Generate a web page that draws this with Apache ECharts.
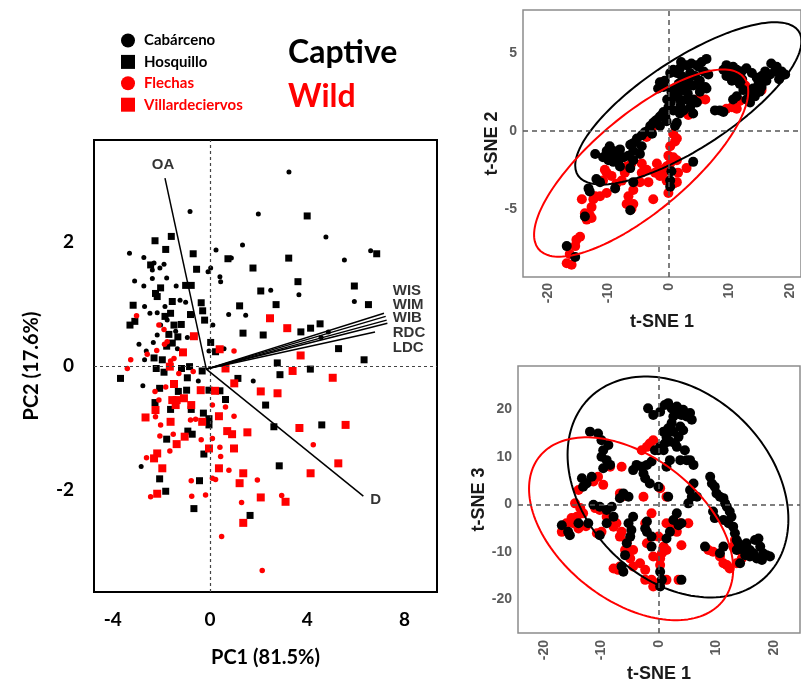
<!DOCTYPE html>
<html>
<head>
<meta charset="utf-8">
<script src="https://cdn.jsdelivr.net/npm/echarts@6.0.0/dist/echarts.min.js"></script>
<style>
  html, body { margin: 0; padding: 0; background: #fff; }
  #chart { width: 801px; height: 686px; }
</style>
</head>
<body>
<div id="chart"></div>
<script>
// ---- PCA biplot (PC1 vs PC2) ----
const cabarceno = [
  [3.25,3.13],[-0.82,2.49],[1.99,2.45],[4.77,2.08],[6.61,1.86],[5.53,1.71],[3.66,1.15],[5.94,1.04],[2.5,1.22],[4.87,0.55],[4.57,0.46],
  [-3.31,1.82],[-2.72,1.75],[-2.30,1.66],[-2.06,1.58],[-2.37,1.55],[-1.89,1.64],[0.25,1.87],[1.34,1.95],[0.88,1.74],[0.03,1.58],
  [-0.08,1.52],[0.41,1.44],[0.44,1.36],[-3.10,1.37],[-2.72,1.29],[-2.37,1.41],[-1.78,1.42],[-1.39,1.29],[-1.23,1.06],[-1.00,1.03],
  [-2.69,0.96],[-2.17,0.86],[-1.85,0.96],[-2.47,0.85],[0.77,0.83],[1.47,0.82],[0.12,0.66],[-2.92,0.35],[-2.62,0.24],[-2.33,0.38],
  [-2.69,0.10],[-1.34,0.28],[-0.04,0.24],[0.58,0.28],[-0.93,0.46],[-2.03,0.66],[-1.76,0.74],[-1.41,0.56],[-2.17,0.50],
  [-2.76,-0.32],[-0.48,-0.24],[-2.83,-1.62],[1.78,-0.24]
];
const hosquillo = [
  [4.0,2.42],[6.86,1.81],[3.24,1.74],[3.62,1.36],[5.94,1.29],[2.72,0.99],[6.52,0.99],[4.14,0.61],[4.53,0.68],[5.29,0.28],
  [6.34,0.1],[2.77,0.05],[4.13,-0.05],[3.74,0.55],[2.88,-0.14],
  [-2.26,2.02],[-1.59,2.09],[-1.82,1.88],[-0.69,1.81],[-2.44,1.63],[-0.55,1.56],[0.74,1.73],[1.77,1.58],[-2.03,1.26],[-2.24,1.17],
  [-2.17,1.12],[-1.0,1.30],[-0.77,1.30],[-3.16,0.98],[-1.55,1.04],[-0.36,1.02],[-0.30,0.89],[-0.22,0.74],[1.22,0.97],[2.09,1.21],
  [-1.85,0.80],[-1.62,0.85],[-3.29,0.66],[-3.09,0.72],[-0.80,0.83],[-1.18,0.67],[-1.48,0.66],[-1.55,0.37],[-1.78,0.32],[-1.32,0.47],
  [-1.69,0.51],[0.03,0.38],[0.23,0.23],[-2.30,0.13],[-1.96,0.10],[1.36,0.53],[2.19,0.50],
  [-3.68,-0.20],[-2.21,-0.04],[-1.89,-0.10],[-0.93,-0.19],[-0.84,-0.01],[-1.17,-0.04],[-0.32,-0.08],[-2.07,-0.36],[-1.30,-0.41],
  [-0.96,-0.39],[-0.04,-0.39],[0.41,-0.40],[1.15,-0.20],[0.64,-0.54],[-2.26,-0.59],[-1.62,-0.70],[-0.77,-0.70],[-0.27,-0.76],
  [-0.04,-0.85],[-0.04,-0.95],[-0.91,-1.05],[-0.73,-1.10],[-1.78,-1.18],[-0.25,-1.42],[-2.07,-1.82],[-1.82,-2.02],[-0.43,-1.85],
  [2.29,-0.63],[2.63,-0.98],[4.60,-0.95],[2.85,-1.61],[1.65,-2.41],[-0.66,-2.30]
];
const flechas = [
  [-3.02,0.81],[-2.10,0.66],[-1.89,0.59],[-1.76,0.39],[-1.87,0.35],[-2.19,0.25],[-3.26,0.10],[-2.58,0.19],[-1.48,0.12],[0.99,0.24],[-1.62,0.08],
  [-3.40,-0.04],[-2.26,-0.41],[-1.82,-0.34],[-2.10,-0.55],[-2.24,-0.82],[-2.03,-0.95],[-1.51,-1.10],[-2.06,-1.13],[-1.65,-1.37],
  [-2.61,-1.48],[-0.80,-0.87],[-0.59,-0.86],[-0.36,-1.19],[0.10,-1.17],[0.41,-1.31],[0.44,-1.46],[0.78,-1.68],[0.10,-1.81],
  [0.23,-1.83],[-0.77,-1.85],[-0.75,-2.10],[-0.18,-2.08],[1.30,-2.20],[1.95,-1.84],[0.64,-0.66],[0.99,-0.81],[0.10,-0.63],
  [-0.69,-0.09],[-1.28,-0.12],[-2.44,-2.11],
  [4.25,-1.27],[2.95,-2.09],[0.48,-2.75],[2.15,-3.30]
];
const villardeciervos = [
  [2.47,0.77],[3.18,0.61],[3.73,0.17],[3.4,-0.08],[5.05,-0.19],
  [-0.66,0.48],[-1.11,0.22],[0.40,0.27],[-1.65,-0.01],[0.64,-0.04],
  [-1.48,-0.29],[-0.38,-0.39],[0.21,-0.40],[1.0,-0.28],[-1.07,-0.52],[-1.37,-0.55],[-1.55,-0.55],[-0.77,-0.63],[-1.41,-0.63],
  [-2.24,-0.71],[-2.65,-0.83],[-1.62,-0.90],[-0.32,-0.90],[0.37,-0.81],[2.09,-0.41],[0.71,-1.05],[0.91,-1.10],[1.54,-1.07],
  [-1.04,-1.14],[-1.37,-1.26],[-2.17,-1.41],[-2.30,-1.49],[-1.96,-1.65],[-0.04,-1.33],[0.99,-1.33],[0.37,-1.65],[1.37,-1.73],
  [1.22,-1.89],[2.09,-2.12],[-2.17,-2.06],
  [2.78,-0.44],[3.68,-1.00],[5.58,-0.95],[5.28,-1.57],[4.14,-1.73],[3.11,-2.19],[1.37,-2.53]
];
// loading vectors
const loadingNames = ['OA', 'D', 'WIS', 'WIM', 'WIB', 'RDC', 'LDC'];
const loadingOrigin = [-0.15, -0.05];
const loadingEndX = [-1.85, 6.31, 7.16, 7.23, 7.27, 7.30, 6.79];
const loadingEndY = [3.03, -2.10, 0.85, 0.80, 0.74, 0.69, 0.55];
const loadingLabelX = [-1.93, 6.82, 7.52, 7.52, 7.52, 7.52, 7.52];
const loadingLabelY = [3.24, -2.16, 1.21, 0.99, 0.77, 0.54, 0.30];

const pcaTicksX = [-4, 0, 4, 8];
const pcaTicksY = [-2, 0, 2];

// ---- t-SNE 1 vs t-SNE 2 ----
const tsne12Captive = [
  [17.8,4.1],[18.6,3.8],[19.2,3.6],[17.5,3.8],[16.7,3.6],[16.1,3.2],[15.3,3.5],[15.9,3.8],[14.8,3.0],[13.9,2.7],[13.4,2.4],
  [12.8,2.0],[12.3,2.6],[11.7,3.0],[11.2,3.9],[10.6,4.1],[10.1,4.0],[9.5,4.2],[9.0,3.9],[9.5,3.5],[10.4,3.2],[11.2,3.5],
  [12.0,3.8],[12.8,4.0],[13.7,3.7],[14.5,3.4],[15.3,2.8],[15.0,2.5],[14.2,2.2],[13.4,1.8],[11.2,2.2],[10.6,2.0],[8.4,1.3],
  [9.0,1.2],[7.6,1.3],[16.9,4.3],[18.2,3.3],[12.1,3.3],[10.0,3.7],
  [6.2,4.6],[5.4,4.4],[4.6,4.2],[3.7,4.3],[2.9,4.2],[1.8,4.0],[1.3,3.7],[2.1,3.5],[3.5,3.7],[4.3,3.5],[5.1,3.2],[6.0,2.8],
  [4.8,3.0],[4.0,2.9],[2.9,2.8],[2.4,2.6],[1.5,2.4],[1.0,2.2],[1.8,2.0],[2.9,2.0],[4.0,2.0],[4.6,1.8],[3.5,1.5],[2.4,1.3],
  [1.8,1.1],[0.7,1.3],[-0.1,1.5],[-0.9,1.2],[-1.5,0.9],[-2.0,0.7],[-2.6,0.5],[-3.1,0.3],[-4.0,-0.1],[-4.5,-0.3],[-5.3,-0.5],
  [-5.9,-0.8],[-6.4,-0.9],[-1.5,3.1],[-0.7,3.2],[0.2,3.7],[0.7,3.9],[-0.9,2.8],[-1.8,2.7],[5.1,2.5],[6.2,2.7],[5.7,3.8],
  [6.5,3.6],[4.0,1.1],[1.3,0.5],[1.0,0.3],[-1.5,0.3],[-0.4,0.6],
  [3.2,3.3],[2.6,3.1],[1.6,3.0],[0.9,2.7],[0.4,2.5],[-0.3,2.0],[0.3,1.8],[-1.2,1.0],[-2.3,0.6],[-3.5,0.0],[-0.6,0.9],
  [2.0,4.4],[4.9,4.1],[3.1,2.4],[1.9,1.6],[-2.8,-0.2],
  [-9.8,-1.0],[-9.2,-1.3],[-8.7,-1.6],[-9.5,-1.7],[-10.3,-1.3],[-8.1,-1.2],[-7.5,-1.7],[-8.4,-2.0],[-9.2,-2.0],[-10.0,-1.9],
  [-12.2,-1.5],[-10.9,-1.7],[-8.1,-2.3],[-6.7,-1.6],[-5.9,-1.3],[-4.8,-1.5],[-4.5,-1.0],[-5.9,-1.9],[-6.4,-2.4],
  [-12.0,-3.1],[-11.4,-3.3],[-13.3,-3.7],[-13.1,-3.9],[-13.9,-5.5],[-8.9,-3.7],[-5.9,-3.3],[0.4,-2.6],[0.2,-3.2],[0.2,-3.6],
  [4.0,-2.0],[-6.4,-5.1],[-16.9,-7.4],[-15.5,-8.1]
];
const tsne12Wild = [
  [4.6,2.0],[0.7,-0.2],[1.0,-0.7],[0.2,-1.0],[-0.1,-1.6],[0.7,-1.7],[1.3,-1.9],[0.2,-2.1],[-0.4,-2.3],[-1.2,-2.5],[-0.9,-2.7],
  [-0.4,-3.2],[0.7,-3.4],[1.5,-2.7],[-0.1,-4.0],[1.3,-3.3],[-2.0,-2.1],[-2.3,-2.7],[-1.5,-2.9],[-3.7,-2.5],[-4.5,-2.7],
  [-4.8,-3.3],[-3.4,-3.3],[-2.6,-4.4],[-6.2,-2.1],[-7.0,-2.3],[-7.3,-2.7],[-7.8,-3.2],[-8.7,-3.4],[-5.9,-3.8],[-6.7,-4.2],
  [-7.0,-4.7],[-5.9,-4.7],[-6.2,-5.0],[-10.3,-2.7],[-10.6,-2.5],[-9.5,-2.9],[-10.9,-3.2],[-10.3,-4.0],[-11.4,-4.2],[-12.2,-4.2],
  [-12.5,-4.4],[-12.8,-4.9],[-13.1,-5.4],[-13.6,-5.7],[-12.8,-5.6],[-13.9,-5.3],[-14.4,-4.4],[-14.7,-6.8],[-15.3,-7.0],
  [-15.5,-7.4],[-16.4,-7.9],[-16.9,-8.5],[-16.1,-8.6],[-1.2,3.1],[5.1,2.0],[6.0,2.0],[3.2,1.0],[11.2,1.4],[10.4,1.5],
  [11.7,1.9],[12.6,2.9],[15.3,2.6],[9.5,1.4],[1.3,-0.5],[2.9,-2.4],[-4.5,-2.1],[-2.9,0.1],[-3.7,-0.4]
];
// ellipse: centre x, centre y, x radius, y radius, phase (deg)
const tsne12EllipseCaptive = [3.2, 1.75, 18.7, 5.2, 40];
const tsne12EllipseWild = [-4.6, -2.08, 17.7, 6.0, 40];

// ---- t-SNE 1 vs t-SNE 3 ----
const tsne13Captive = [
  [-1.9,20.2],[-1.0,18.8],[0.2,19.5],[1.0,20.9],[1.6,21.3],[2.2,20.2],[3.1,19.5],[3.9,18.8],[4.8,18.5],[5.7,17.8],[5.4,19.2],
  [4.2,19.9],[3.1,20.6],[2.5,18.5],[2.2,17.1],[1.6,16.0],[0.8,15.3],[1.3,14.2],[2.5,15.3],[3.7,16.4],[4.2,15.6],[3.4,14.2],
  [2.8,12.8],[1.9,13.2],[1.0,12.8],[0.2,12.1],[0.8,11.4],[3.1,12.1],[4.5,11.4],[5.4,9.3],[6.0,8.3],[4.8,9.3],[3.7,9.3],
  [1.9,9.3],[1.3,7.9],[-0.7,11.4],[-1.3,9.0],[-2.1,8.3],[-3.0,7.9],[-3.9,8.3],[-4.5,7.2],[-2.7,6.5],[-2.4,5.5],[-1.6,4.4],
  [-0.1,11.4],
  [8.9,5.8],[9.2,4.4],[9.7,3.7],[10.0,2.3],[10.6,1.6],[11.2,1.3],[11.5,0.2],[11.8,-0.5],[12.3,-1.5],[12.6,-2.6],[12.1,-4.0],
  [12.9,-4.7],[13.2,-6.1],[13.5,-7.5],[13.8,-8.2],[14.7,-9.6],[15.2,-8.2],[15.8,-9.6],[16.4,-10.3],[16.7,-7.5],[17.3,-7.2],
  [17.6,-8.9],[18.1,-10.3],[18.7,-10.7],[19.3,-11.0],[17.9,-11.7],[17.0,-11.4],[15.8,-11.0],[15.0,-10.7],[14.1,-12.4],
  [13.5,-9.6],[9.4,-1.5],[9.7,-2.9],[11.2,-3.3],[6.0,4.4],[5.4,3.0],[5.7,1.6],[6.6,1.6],[5.1,0.2],
  [-12.0,15.3],[-10.6,14.9],[-10.0,13.5],[-9.7,11.4],[-10.0,10.0],[-9.1,9.3],[-8.8,12.5],[-8.5,8.3],[-9.7,7.6],[-11.7,5.8],
  [-12.6,4.4],[-13.2,3.7],[-13.4,5.5],[-11.4,-0.1],[-10.3,-0.5],[-9.1,-1.2],[-8.2,-0.5],[-7.9,-2.6],[-9.1,-4.0],[-10.3,-6.5],
  [-15.8,-5.8],[-16.9,-4.4],[-15.5,-6.5],[-14.0,-4.0],[-12.3,-4.0],[-6.8,1.3],[-6.2,2.3],[-5.3,1.6],[-4.5,-2.6],[-5.3,-4.0],
  [-4.8,-5.4],[-5.0,-6.8],[-5.6,-8.2],[-5.9,-10.7],[-6.2,-14.2],[-2.4,-5.1],[-2.1,-5.8],[-1.3,-6.8],[-1.3,-8.9],[0.2,-14.2],
  [0.5,-15.9],[0.2,-17.3],[1.3,-7.2],[1.9,-5.8],[3.1,-1.9],[3.9,-4.0],[3.4,-4.4],[2.5,-3.3],[3.9,-15.9],[-6.5,-13.1],
  [1.6,1.6],[-0.1,3.7],[-2.1,-3.6],[8.0,-8.9],[11.2,-8.9],[10.6,-10.3]
];
const tsne13Wild = [
  [-1.0,13.5],[-2.1,12.1],[-3.0,11.4],[-6.5,7.9],[-8.5,7.9],[-10.6,5.8],[-11.4,4.8],[-9.7,4.1],[-14.0,3.0],[-14.6,0.2],
  [-13.7,-0.8],[-13.2,-1.9],[-14.3,-2.6],[-14.9,-4.0],[-14.0,-5.1],[-12.7,-4.6],[-16.9,-5.8],[-16.1,-4.0],[-15.2,-2.9],
  [-11.1,-0.8],[-10.3,-1.2],[-9.1,-2.6],[-8.5,-3.6],[-7.9,-4.7],[-10.8,-6.1],[-10.0,-5.8],[-7.4,-4.0],[-6.5,-5.8],[-6.8,-6.8],
  [-5.6,-7.9],[-5.9,-9.6],[-4.5,-9.6],[-5.0,-11.4],[-6.8,-13.1],[-7.9,-13.5],[-7.1,-13.8],[-4.5,-13.1],[-3.3,-12.4],
  [-2.4,-13.8],[-2.4,-15.9],[-1.3,-15.9],[-1.0,-17.3],[-0.4,-16.6],[0.2,-12.8],[0.2,-11.4],[0.5,-10.3],[0.8,-8.9],[1.3,-9.6],
  [-0.1,-6.8],[1.3,-4.0],[2.5,-4.0],[3.7,-4.0],[5.1,-4.0],[3.1,-5.8],[3.9,-8.6],[3.4,-15.9],[1.3,-15.9],[-6.5,1.6],[-2.7,1.6],
  [-6.8,2.3],[-2.1,-8.2],[-1.0,-11.0],[8.6,-9.6],[9.4,-10.0],[10.6,-11.0],[11.2,-12.4],[11.8,-12.8],[12.3,-13.5],[13.5,-12.4],
  [14.4,-11.4],[13.2,-7.5],[12.9,-8.9],[13.8,-9.6],[0.2,3.4],[1.3,1.6],[-1.3,-1.9],[-2.4,-4.0],[-1.6,12.8]
];
const tsne13EllipseCaptive = [3.3, 3.65, 19.2, 23.25, 107];
const tsne13EllipseWild = [-4.85, -5.15, 17.75, 19.25, 116];

const tsneTicksX = [-20, -10, 0, 10, 20];
const tsne2TicksY = [-5, 0, 5];
const tsne3TicksY = [-20, -10, 0, 10, 20];

const RED = '#ff0000';
const BLACK = '#000000';

function ellipsePoints(p) {
  const [cx, cy, rx, ry, ph] = p;
  const pts = [];
  for (let i = 0; i <= 160; i++) {
    const t = (i / 160) * 2 * Math.PI;
    pts.push([cx + rx * Math.cos(t), cy + ry * Math.cos(t - ph * Math.PI / 180)]);
  }
  return pts;
}

const chart = echarts.init(document.getElementById('chart'));

const pcaLabelFont = { fontFamily: 'Lato', fontWeight: 'bold', fontSize: 19, color: '#000' };
const tsneLabelFont = { fontFamily: 'Liberation Sans', fontWeight: 'bold', fontSize: 14, color: '#5a5a5a' };
const tsneNameFont = { fontFamily: 'Liberation Sans', fontWeight: 'bold', fontSize: 18, color: '#1a1a1a' };

function axis(gridIndex, min, max, ticks, label, name, nameGap, nameFont) {
  return {
    type: 'value', gridIndex: gridIndex, min: min, max: max,
    axisLine: { show: false },
    axisTick: { show: false },
    splitLine: { show: false },
    axisLabel: Object.assign({ customValues: ticks }, label),
    name: name, nameLocation: 'middle', nameGap: nameGap, nameTextStyle: nameFont
  };
}

function zeroLines(xi, yi, style) {
  return {
    type: 'scatter', xAxisIndex: xi, yAxisIndex: yi, data: [], silent: true, z: 1,
    markLine: {
      silent: true, symbol: ['none', 'none'], label: { show: false },
      lineStyle: style, animation: false,
      data: [{ xAxis: 0 }, { yAxis: 0 }]
    }
  };
}

function pts(name, xi, data, symbol, size, color, z) {
  return {
    name: name, type: 'scatter', xAxisIndex: xi, yAxisIndex: xi, data: data,
    symbol: symbol, symbolSize: size, itemStyle: { color: color, opacity: 1 }, z: z || 2
  };
}

function ellipseSeries(xi, params, color) {
  return {
    type: 'line', xAxisIndex: xi, yAxisIndex: xi, data: ellipsePoints(params),
    symbol: 'none', silent: true, z: 4, lineStyle: { color: color, width: 2 }
  };
}

const loadingSeries = loadingNames.map(function (n, i) {
  return {
    type: 'line', xAxisIndex: 0, yAxisIndex: 0, symbol: 'none', silent: true, z: 5,
    lineStyle: { color: '#000', width: 1.5 },
    data: [loadingOrigin, [loadingEndX[i], loadingEndY[i]]]
  };
});

const centredLabels = [], leftLabels = [];
loadingNames.forEach(function (n, i) {
  const item = { value: [loadingLabelX[i], loadingLabelY[i]], name: n };
  if (i < 2) centredLabels.push(item); else leftLabels.push(item);
});

const labelText = { fontFamily: 'Liberation Sans', fontWeight: 'bold', fontSize: 15, color: '#000' };

const option = {
  animation: false,
  backgroundColor: '#fff',
  grid: [
    { left: 94, top: 140, width: 343, height: 452, show: true, borderColor: '#000', borderWidth: 2, backgroundColor: 'transparent' },
    { left: 523, top: 10, width: 278, height: 267, show: true, borderColor: '#8c8c8c', borderWidth: 1.5, backgroundColor: 'transparent' },
    { left: 518, top: 366, width: 282, height: 267, show: true, borderColor: '#8c8c8c', borderWidth: 1.5, backgroundColor: 'transparent' }
  ],
  xAxis: [
    axis(0, -4.77, 9.34, pcaTicksX, Object.assign({ margin: 18 }, pcaLabelFont), 'PC1 (81.5%)', 56,
      { fontFamily: 'Lato', fontWeight: 'bold', fontSize: 20, color: '#000' }),
    axis(1, -24.13, 21.82, tsneTicksX, Object.assign({ margin: 6, rotate: 90, padding: [14, 0, 0, 0] }, tsneLabelFont), 't-SNE 1', 36, tsneNameFont),
    axis(2, -24.52, 24.52, tsneTicksX, Object.assign({ margin: 7, rotate: 90, padding: [12, 0, 0, 0] }, tsneLabelFont), 't-SNE 1', 32, tsneNameFont)
  ],
  yAxis: [
    axis(0, -3.645, 3.645, pcaTicksY, Object.assign({ margin: 20 }, pcaLabelFont), 'PC2 (17.6%)', 52,
      { fontFamily: 'Lato', fontWeight: 'bold', fontSize: 20, color: '#000' }),
    axis(1, -9.38, 7.735, tsne2TicksY, Object.assign({ margin: 6 }, tsneLabelFont), 't-SNE 2', 21, tsneNameFont),
    axis(2, -27.09, 29.12, tsne3TicksY, Object.assign({ margin: 6 }, tsneLabelFont), 't-SNE 3', 16, tsneNameFont)
  ],
  legend: {
    orient: 'vertical', left: 116, top: 28, itemWidth: 14, itemHeight: 14, itemGap: 6.4,
    selectedMode: false,
    textStyle: { fontFamily: 'Lato', fontWeight: 'bold', fontSize: 15, lineHeight: 14, padding: [0, 0, 0, 4] },
    data: [
      { name: 'Cabárceno', icon: 'circle', textStyle: { color: BLACK } },
      { name: 'Hosquillo', icon: 'rect', textStyle: { color: BLACK } },
      { name: 'Flechas', icon: 'circle', textStyle: { color: RED } },
      { name: 'Villardeciervos', icon: 'rect', textStyle: { color: RED } }
    ]
  },
  graphic: [
    { type: 'text', left: 288, top: 37, style: { text: 'Captive', font: 'bold 32px Lato', fill: BLACK } },
    { type: 'text', left: 288, top: 81, style: { text: 'Wild', font: 'bold 32px Lato', fill: RED } }
  ],
  series: [
    zeroLines(0, 0, { color: '#444', width: 1.2, type: [3, 3] }),
    zeroLines(1, 1, { color: '#555', width: 1.5, type: [5, 4] }),
    zeroLines(2, 2, { color: '#555', width: 1.5, type: [5, 4] }),

    pts('Cabárceno', 0, cabarceno, 'circle', 5, BLACK),
    pts('Hosquillo', 0, hosquillo, 'rect', 7, BLACK),
    pts('Flechas', 0, flechas, 'circle', 5.5, RED),
    pts('Villardeciervos', 0, villardeciervos, 'rect', 8, RED),
  ].concat(loadingSeries).concat([
    {
      type: 'scatter', xAxisIndex: 0, yAxisIndex: 0, symbolSize: 0, silent: true, z: 6, data: centredLabels,
      label: Object.assign({ show: true, position: 'inside', formatter: '{b}' }, labelText)
    },
    {
      type: 'scatter', xAxisIndex: 0, yAxisIndex: 0, symbolSize: 0, silent: true, z: 6, data: leftLabels,
      label: Object.assign({ show: true, position: 'right', distance: 0, formatter: '{b}' }, labelText)
    },

    pts('Wild t-SNE 2', 1, tsne12Wild, 'circle', 10, RED),
    pts('Captive t-SNE 2', 1, tsne12Captive, 'circle', 10, BLACK, 3),
    ellipseSeries(1, tsne12EllipseCaptive, BLACK),
    ellipseSeries(1, tsne12EllipseWild, RED),

    pts('Wild t-SNE 3', 2, tsne13Wild, 'circle', 10, RED),
    pts('Captive t-SNE 3', 2, tsne13Captive, 'circle', 10, BLACK, 3),
    ellipseSeries(2, tsne13EllipseCaptive, BLACK),
    ellipseSeries(2, tsne13EllipseWild, RED)
  ])
};

chart.setOption(option);
</script>
</body>
</html>
